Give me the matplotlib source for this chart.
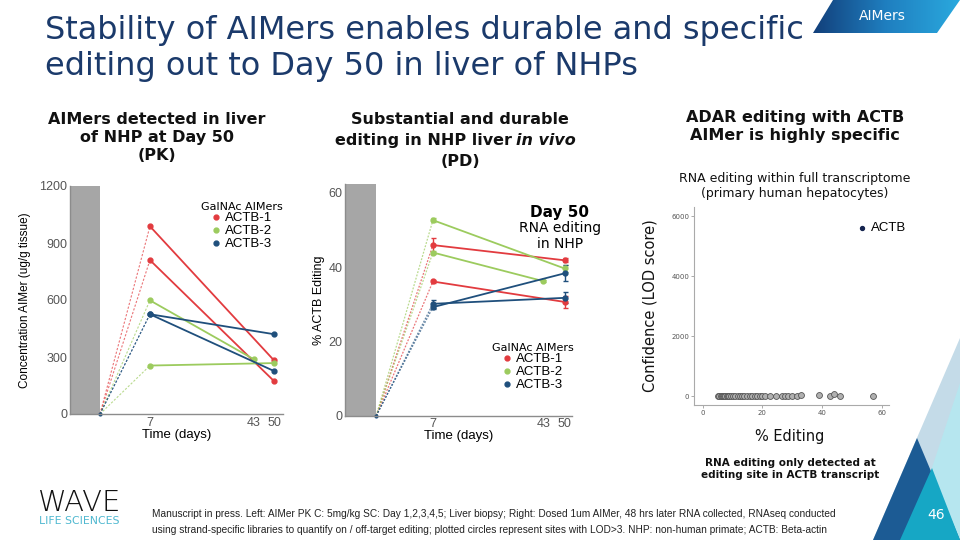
import numpy as np
import matplotlib
matplotlib.use('Agg')
import matplotlib.pyplot as plt
from matplotlib.lines import Line2D
from matplotlib.patches import Polygon

# ---- data ----
series = ['ACTB-1', 'ACTB-2', 'ACTB-3']
colors = ['#e23b3f', '#9ccb5e', '#1f4f7c']

# PK: one line per animal, group index into series
pk_group = [0, 0, 1, 1, 2, 2]
pk_days = [[7, 50], [7, 50], [7, 43], [7, 50], [7, 50], [7, 50]]
pk_conc = [[988, 282], [810, 173], [598, 288], [255, 268], [525, 420], [525, 226]]

# PD: % ACTB editing, with error bars
pd_group = [0, 0, 1, 1, 2, 2]
pd_days = [[7, 50], [7, 50], [7, 50], [7, 43], [7, 50], [7, 50]]
pd_edit = [[45.9, 41.8], [36.1, 30.6], [52.6, 39.6], [43.9, 36.2], [30.1, 31.7], [29.2, 38.3]]
pd_err = [[2.0, 0.5], [0.5, 1.5], [0.6, 1.0], [0.4, 0.3], [1.0, 1.5], [0.5, 2.2]]

# off-target scan (primary human hepatocytes)
off_x = [5.2, 5.6, 6.0, 6.4, 6.8, 7.2, 7.6, 8.0, 8.5, 9.0, 9.6, 10.3, 11.0, 11.8, 12.5,
         13.3, 14.0, 15.0, 15.8, 16.7, 17.5, 18.3, 19.2, 20.0, 21.0, 22.5, 24.5, 26.5,
         27.5, 28.5, 30.0, 31.5, 33.0, 39.0, 42.8, 44.2, 46.0, 57.0]
off_y = [5, 10, 8, 3, 15, 6, 20, 4, 12, 7, 9, 5, 11, 6, 8, 4, 10, 7, 5, 12, 6, 9, 4, 8,
         6, 5, 3, 4, 7, 5, 9, 12, 30, 60, 5, 90, 20, 5]
actb_x = 53.5
actb_y = 5620

xticks_days = [7, 43, 50]

W, H = 960, 540
def fx(px):
    return px / W
def fy(py):
    return 1 - py / H

fig = plt.figure(figsize=(9.6, 5.4), dpi=100)
fig.patch.set_facecolor('white')

# ---- slide decoration (full-figure overlay) ----
deco = fig.add_axes([0, 0, 1, 1])
deco.set_xlim(0, W)
deco.set_ylim(H, 0)
deco.axis('off')
deco.add_patch(Polygon([(960, 338), (873, 540), (960, 540)], closed=True, color='#c4dbe8', lw=0))
deco.add_patch(Polygon([(960, 383), (908, 540), (960, 540)], closed=True, color='#b6e6ef', lw=0))
deco.add_patch(Polygon([(917, 438), (873, 540), (960, 540)], closed=True, color='#1c5b94', lw=0))
deco.add_patch(Polygon([(932, 468), (900, 540), (960, 540)], closed=True, color='#16a7c5', lw=0))
deco.text(936, 515, '46', color='white', fontsize=10, ha='center', va='center')

badge = Polygon([(833, 0), (960, 0), (937, 33), (813, 33)], closed=True, facecolor='none', lw=0)
deco.add_patch(badge)
grad = np.linspace(0, 1, 256).reshape(1, -1)
cmap = matplotlib.colors.LinearSegmentedColormap.from_list('b', ['#123f7a', '#1f7fc0', '#2aa9de'])
im = deco.imshow(grad, extent=(813, 960, 33, 0), cmap=cmap, aspect='auto', zorder=1)
im.set_clip_path(badge)
deco.text(882, 16, 'AIMers', color='white', fontsize=10, ha='center', va='center', zorder=2)

# WAVE logo
deco.text(38, 503, 'WAVE', fontsize=21, color='#111111', fontweight='light',
          family='DejaVu Sans', ha='left', va='center')
deco.text(39, 521, 'LIFE SCIENCES', fontsize=7.8, color='#4fb8d0', ha='left', va='center')

# ---- titles and text ----
fig.text(fx(45), fy(15), 'Stability of AIMers enables durable and specific\nediting out to Day 50 in liver of NHPs',
         fontsize=23, color='#1b3a6b', ha='left', va='top', linespacing=1.2)

hdr = dict(fontsize=11.5, fontweight='bold', color='#111111', va='top')
fig.text(fx(157), fy(112), 'AIMers detected in liver\nof NHP at Day 50\n(PK)', ha='center',
         linespacing=1.25, **hdr)
fig.text(fx(460), fy(112), 'Substantial and durable', ha='center', **hdr)
fig.text(fx(512), fy(133), 'editing in NHP liver', ha='right', **hdr)
fig.text(fx(516), fy(133), 'in vivo', ha='left', style='italic', **hdr)
fig.text(fx(460), fy(154), '(PD)', ha='center', **hdr)
fig.text(fx(795), fy(110), 'ADAR editing with ACTB\nAIMer is highly specific', ha='center',
         linespacing=1.25, **hdr)

fig.text(fx(795), fy(172), 'RNA editing within full transcriptome\n(primary human hepatocytes)',
         fontsize=9, color='#111111', ha='center', va='top', linespacing=1.2)
fig.text(fx(790), fy(458), 'RNA editing only detected at\nediting site in ACTB transcript',
         fontsize=7.5, fontweight='bold', color='#111111', ha='center', va='top', linespacing=1.25)

arial = ['Liberation Sans', 'DejaVu Sans']

foot = ('Manuscript in press. Left: AIMer PK C: 5mg/kg SC: Day 1,2,3,4,5; Liver biopsy; Right: Dosed 1um AIMer, '
        '48 hrs later RNA collected, RNAseq conducted\nusing strand-specific libraries to quantify on / off-target '
        'editing; plotted circles represent sites with LOD>3. NHP: non-human primate; ACTB: Beta-actin')
fig.text(fx(152), fy(509), foot, fontsize=7.3, color='#222222', ha='left', va='top',
         family=arial, linespacing=1.75)


def style_time_axes(ax, start_x, xlim, ylim, yticks):
    ax.set_xlim(*xlim)
    ax.set_ylim(*ylim)
    ax.axvspan(xlim[0], start_x, color='#a6a6a6', lw=0, zorder=0)
    for s in ['top', 'right']:
        ax.spines[s].set_visible(False)
    for s in ['left', 'bottom']:
        ax.spines[s].set_color('#8c8c8c')
        ax.spines[s].set_linewidth(1.0)
    ax.set_xticks(xticks_days)
    ax.set_yticks(yticks)
    ax.tick_params(length=0, labelsize=9, labelcolor='#555555', pad=2)
    for lab in ax.get_xticklabels() + ax.get_yticklabels():
        lab.set_family(arial)
    ax.set_xlabel('Time (days)', fontsize=9.5, family=arial, labelpad=0)
    ax.set_facecolor('none')


def legend_handles():
    return [Line2D([], [], marker='o', ls='none', color=c, markersize=3.5) for c in colors]


# ---- panel 1: PK ----
ax1 = fig.add_axes([fx(70), 1 - 414 / H, 213 / W, 228 / H])
start1 = -10.3
style_time_axes(ax1, start1, (-20.7, 53.1), (0, 1200), [0, 300, 600, 900, 1200])
for g, d, v in zip(pk_group, pk_days, pk_conc):
    c = colors[g]
    ax1.plot([start1, d[0]], [0, v[0]], ls=(0, (2, 1.5)), lw=0.8, color=c, alpha=0.7)
    ax1.plot(d, v, '-o', color=c, lw=1.3, markersize=3.5)
ax1.plot([start1], [0], 'o', color='#1f4f7c', markersize=2, clip_on=False)
ax1.set_ylabel('Concentration AIMer (ug/g tissue)', fontsize=8.5, family=arial, labelpad=6)
ax1.legend(legend_handles(), series, title='GalNAc AIMers', loc='upper center',
           bbox_to_anchor=((242 - 70) / 213, (414 - 195) / 228), frameon=False,
           handlelength=0.6, handletextpad=0.35, labelspacing=0.05, borderpad=0,
           prop={'family': arial, 'size': 9.5}, title_fontproperties={'size': 8})

# ---- panel 2: PD ----
ax2 = fig.add_axes([fx(345), 1 - 415.7 / H, 227 / W, 231.6 / H])
start2 = -11.5
style_time_axes(ax2, start2, (-21.7, 52.4), (0, 62.3), [0, 20, 40, 60])
for g, d, v, e in zip(pd_group, pd_days, pd_edit, pd_err):
    c = colors[g]
    ax2.plot([start2, d[0]], [0, v[0]], ls=(0, (1.5, 1.2)), lw=0.9, color=c, alpha=0.7)
    ax2.errorbar(d, v, yerr=e, fmt='-o', color=c, lw=1.3, markersize=3.5, capsize=1.8, elinewidth=1)
ax2.plot([start2], [0], 'o', color='#1f4f7c', markersize=2, clip_on=False)
ax2.set_ylabel('% ACTB Editing', fontsize=9, family=arial, labelpad=2)
ax2.text((560 - 345) / 227, (415.7 - 213) / 231.6, 'Day 50', transform=ax2.transAxes,
         fontsize=11, fontweight='bold', ha='center', va='center')
ax2.text((560 - 345) / 227, (415.7 - 236) / 231.6, 'RNA editing\nin NHP', transform=ax2.transAxes,
         fontsize=10, ha='center', va='center', linespacing=1.15)
ax2.legend(legend_handles(), series, title='GalNAc AIMers', loc='upper center',
           bbox_to_anchor=((533 - 345) / 227, (415.7 - 336) / 231.6), frameon=False,
           handlelength=0.6, handletextpad=0.35, labelspacing=0.05, borderpad=0,
           prop={'family': arial, 'size': 9.5}, title_fontproperties={'size': 8})

# ---- panel 3: off-target scatter ----
ax3 = fig.add_axes([fx(694.3), 1 - 405 / H, 194.7 / W, 197.7 / H])
ax3.scatter(off_x, off_y, s=18, facecolor='#b0b0b0', edgecolor='#555555', linewidths=0.6, zorder=2)
ax3.scatter([actb_x], [actb_y], s=8, color='#15244f', zorder=3)
ax3.text(actb_x + 3, actb_y, 'ACTB', fontsize=9.5, family=arial, va='center', ha='left')
ax3.set_xlim(-2.8, 62.5)
ax3.set_ylim(-290, 6300)
ax3.set_xticks([0, 20, 40, 60])
ax3.set_yticks([0, 2000, 4000, 6000])
ax3.tick_params(length=2, width=0.5, labelsize=5, labelcolor='#555555', color='#888888', pad=1.5)
for s in ['top', 'right']:
    ax3.spines[s].set_visible(False)
for s in ['left', 'bottom']:
    ax3.spines[s].set_color('#aaaaaa')
    ax3.spines[s].set_linewidth(0.8)
ax3.set_facecolor('none')
fig.text(fx(650), fy(306), 'Confidence (LOD score)', rotation=90, fontsize=10.5,
         ha='center', va='center', color='#111111')
fig.text(fx(790), fy(437), '% Editing', fontsize=10.5, ha='center', va='center', color='#111111')

fig.savefig('out.png', dpi=100)
